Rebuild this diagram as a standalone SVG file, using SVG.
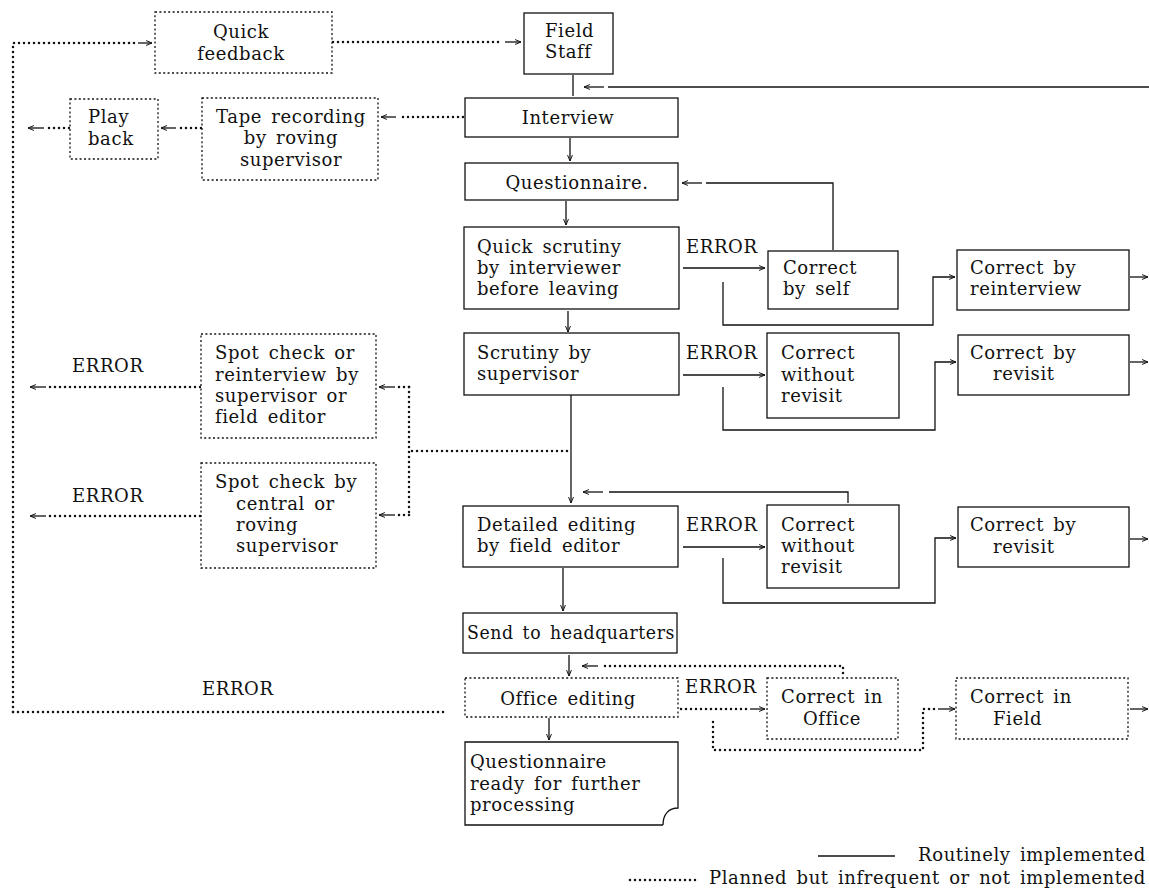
<svg xmlns="http://www.w3.org/2000/svg" width="1149" height="889" viewBox="0 0 1149 889">
<style>
.box{fill:#fff;stroke:#111;stroke-width:1.3}
.dbox{fill:#fff;stroke:#111;stroke-width:1.3;stroke-dasharray:2 2.4}
.ln{fill:none;stroke:#111;stroke-width:1.3}
.dl{fill:none;stroke:#111;stroke-width:2.5;stroke-dasharray:0 5;stroke-linecap:round}
text{font-family:"DejaVu Serif","Liberation Serif",serif;font-size:18px;letter-spacing:0.6px;word-spacing:3px;fill:#111}
.m{text-anchor:middle}
.e{text-anchor:end}
</style>
<defs>
<marker id="a" viewBox="0 0 10 10" refX="9.5" refY="5" markerWidth="7" markerHeight="7" orient="auto" markerUnits="userSpaceOnUse">
<path d="M1,1.5 L9.5,5 L1,8.5" fill="none" stroke="#111" stroke-width="1.4"/>
</marker>
</defs>
<rect width="1149" height="889" fill="#fff"/>

<g id="connectors">
<path class="ln" d="M573,75 V96"/>
<path class="ln" d="M1149,87 H608"/>
<path class="ln" d="M604,87 H584" marker-end="url(#a)"/>
<path class="ln" d="M570,138 V161" marker-end="url(#a)"/>
<path class="ln" d="M833,250 V183 H706"/>
<path class="ln" d="M702,183 H682" marker-end="url(#a)"/>
<path class="ln" d="M566,201 V225" marker-end="url(#a)"/>
<path class="ln" d="M683,268 H765" marker-end="url(#a)"/>
<path class="ln" d="M723,282 V325 H933 V277 H955" marker-end="url(#a)"/>
<path class="ln" d="M1130,277 H1148" marker-end="url(#a)"/>
<path class="ln" d="M568,311 V332" marker-end="url(#a)"/>
<path class="ln" d="M683,375 H765" marker-end="url(#a)"/>
<path class="ln" d="M723,387 V430 H935 V362 H956" marker-end="url(#a)"/>
<path class="ln" d="M1130,362 H1148" marker-end="url(#a)"/>
<path class="ln" d="M571,395 V503" marker-end="url(#a)"/>
<path class="ln" d="M848,503 V492 H609"/>
<path class="ln" d="M603,492 H583" marker-end="url(#a)"/>
<path class="ln" d="M683,547 H765" marker-end="url(#a)"/>
<path class="ln" d="M723,558 V603 H935 V538 H956" marker-end="url(#a)"/>
<path class="ln" d="M1130,539 H1148" marker-end="url(#a)"/>
<path class="ln" d="M563,568 V611" marker-end="url(#a)"/>
<path class="ln" d="M569,655 V676" marker-end="url(#a)"/>
<path class="ln" d="M549,718 V740" marker-end="url(#a)"/>

<path class="dl" d="M13,712 V43 H136"/>
<path class="ln" d="M138,43 H152" marker-end="url(#a)"/>
<path class="dl" d="M333,42 H503"/>
<path class="ln" d="M505,42 H521" marker-end="url(#a)"/>
<path class="dl" d="M463,117 H398"/>
<path class="ln" d="M396,117 H381" marker-end="url(#a)"/>
<path class="dl" d="M201,128 H178"/>
<path class="ln" d="M176,128 H161" marker-end="url(#a)"/>
<path class="dl" d="M69,128 H46"/>
<path class="ln" d="M44,128 H28" marker-end="url(#a)"/>
<path class="dl" d="M567,451 H409"/>
<path class="dl" d="M409,387 V515"/>
<path class="dl" d="M409,387 H398"/>
<path class="ln" d="M395,387 H379" marker-end="url(#a)"/>
<path class="dl" d="M409,515 H398"/>
<path class="ln" d="M395,515 H379" marker-end="url(#a)"/>
<path class="dl" d="M200,387 H48"/>
<path class="ln" d="M46,387 H30" marker-end="url(#a)"/>
<path class="dl" d="M200,516 H48"/>
<path class="ln" d="M46,516 H30" marker-end="url(#a)"/>
<path class="dl" d="M13,712 H445"/>
<path class="dl" d="M843,673 V666 H600"/>
<path class="ln" d="M598,666 H582" marker-end="url(#a)"/>
<path class="dl" d="M681,709 H748"/>
<path class="ln" d="M750,709 H765" marker-end="url(#a)"/>
<path class="dl" d="M713,722 V750 H923 V709 H936"/>
<path class="ln" d="M938,709 H955" marker-end="url(#a)"/>
<path class="ln" d="M1130,709 H1148" marker-end="url(#a)"/>
</g>

<g id="labels">
<text x="686" y="253">ERROR</text>
<text x="686" y="359">ERROR</text>
<text x="686" y="531">ERROR</text>
<text x="685" y="693">ERROR</text>
<text x="72" y="372">ERROR</text>
<text x="72" y="502">ERROR</text>
<text x="202" y="695">ERROR</text>
</g>

<g id="n_quick_feedback"><rect class="dbox" x="155" y="12" width="177" height="61"/><text class="m" x="241" y="38">Quick</text><text class="m" x="241" y="60">feedback</text></g>
<g id="n_field_staff"><rect class="box" x="524" y="13" width="89" height="61"/><text x="545" y="37">Field</text><text x="545" y="58">Staff</text></g>
<g id="n_interview"><rect class="box" x="465" y="98" width="213" height="39"/><text class="m" x="568" y="124">Interview</text></g>
<g id="n_tape"><rect class="dbox" x="202" y="98" width="176" height="82"/><text class="m" x="291" y="123">Tape recording</text><text class="m" x="291" y="144">by roving</text><text class="m" x="291" y="166">supervisor</text></g>
<g id="n_playback"><rect class="dbox" x="70" y="99" width="88" height="60"/><text x="88" y="123">Play</text><text x="88" y="145">back</text></g>
<g id="n_questionnaire"><rect class="box" x="465" y="163" width="213" height="37"/><text class="m" x="577" y="189">Questionnaire.</text></g>
<g id="n_quick_scrutiny"><rect class="box" x="464" y="227" width="215" height="82"/><text x="477" y="253">Quick scrutiny</text><text x="477" y="274">by interviewer</text><text x="477" y="295">before leaving</text></g>
<g id="n_correct_self"><rect class="box" x="768" y="251" width="130" height="58"/><text x="783" y="274">Correct</text><text x="783" y="295">by self</text></g>
<g id="n_correct_reinterview"><rect class="box" x="957" y="250" width="172" height="60"/><text x="970" y="274">Correct by</text><text x="970" y="295">reinterview</text></g>
<g id="n_scrutiny_supervisor"><rect class="box" x="464" y="333" width="215" height="62"/><text x="477" y="359">Scrutiny by</text><text x="477" y="380">supervisor</text></g>
<g id="n_correct_without_1"><rect class="box" x="767" y="333" width="132" height="85"/><text x="781" y="359">Correct</text><text x="781" y="381">without</text><text x="781" y="402">revisit</text></g>
<g id="n_correct_revisit_1"><rect class="box" x="958" y="335" width="171" height="60"/><text x="970" y="359">Correct by</text><text x="993" y="380">revisit</text></g>
<g id="n_spot_check_1"><rect class="dbox" x="201" y="334" width="175" height="104"/><text x="215" y="359">Spot check or</text><text x="215" y="381">reinterview by</text><text x="215" y="402">supervisor or</text><text x="215" y="423">field editor</text></g>
<g id="n_spot_check_2"><rect class="dbox" x="201" y="463" width="175" height="105"/><text x="215" y="488">Spot check by</text><text x="236" y="510">central or</text><text x="236" y="531">roving</text><text x="236" y="552">supervisor</text></g>
<g id="n_detailed_editing"><rect class="box" x="463" y="506" width="215" height="61"/><text x="477" y="531">Detailed editing</text><text x="477" y="552">by field editor</text></g>
<g id="n_correct_without_2"><rect class="box" x="767" y="505" width="132" height="83"/><text x="781" y="531">Correct</text><text x="781" y="552">without</text><text x="781" y="573">revisit</text></g>
<g id="n_correct_revisit_2"><rect class="box" x="958" y="507" width="171" height="60"/><text x="970" y="531">Correct by</text><text x="993" y="553">revisit</text></g>
<g id="n_send"><rect class="box" x="463" y="613" width="214" height="40"/><text x="467" y="639" textLength="208" lengthAdjust="spacingAndGlyphs">Send to headquarters</text></g>
<g id="n_office_editing"><rect class="dbox" x="465" y="678" width="213" height="39"/><text class="m" x="568" y="705">Office editing</text></g>
<g id="n_correct_office"><rect class="dbox" x="767" y="678" width="131" height="61"/><text class="m" x="832" y="703">Correct in</text><text class="m" x="832" y="725">Office</text></g>
<g id="n_correct_field"><rect class="dbox" x="956" y="678" width="172" height="61"/><text x="970" y="703">Correct in</text><text x="993" y="725">Field</text></g>
<g id="n_ready"><path class="box" d="M663,825 H465 V742 H678 V808 C669,808 663,814 663,825"/><text x="470" y="768">Questionnaire</text><text x="470" y="790">ready for further</text><text x="470" y="811">processing</text></g>

<g id="legend">
<path class="ln" d="M818,856 H895"/>
<text class="e" x="1146" y="861">Routinely implemented</text>
<path class="dl" d="M630,880 H700"/>
<text class="e" x="1146" y="884">Planned but infrequent or not implemented</text>
</g>
</svg>
